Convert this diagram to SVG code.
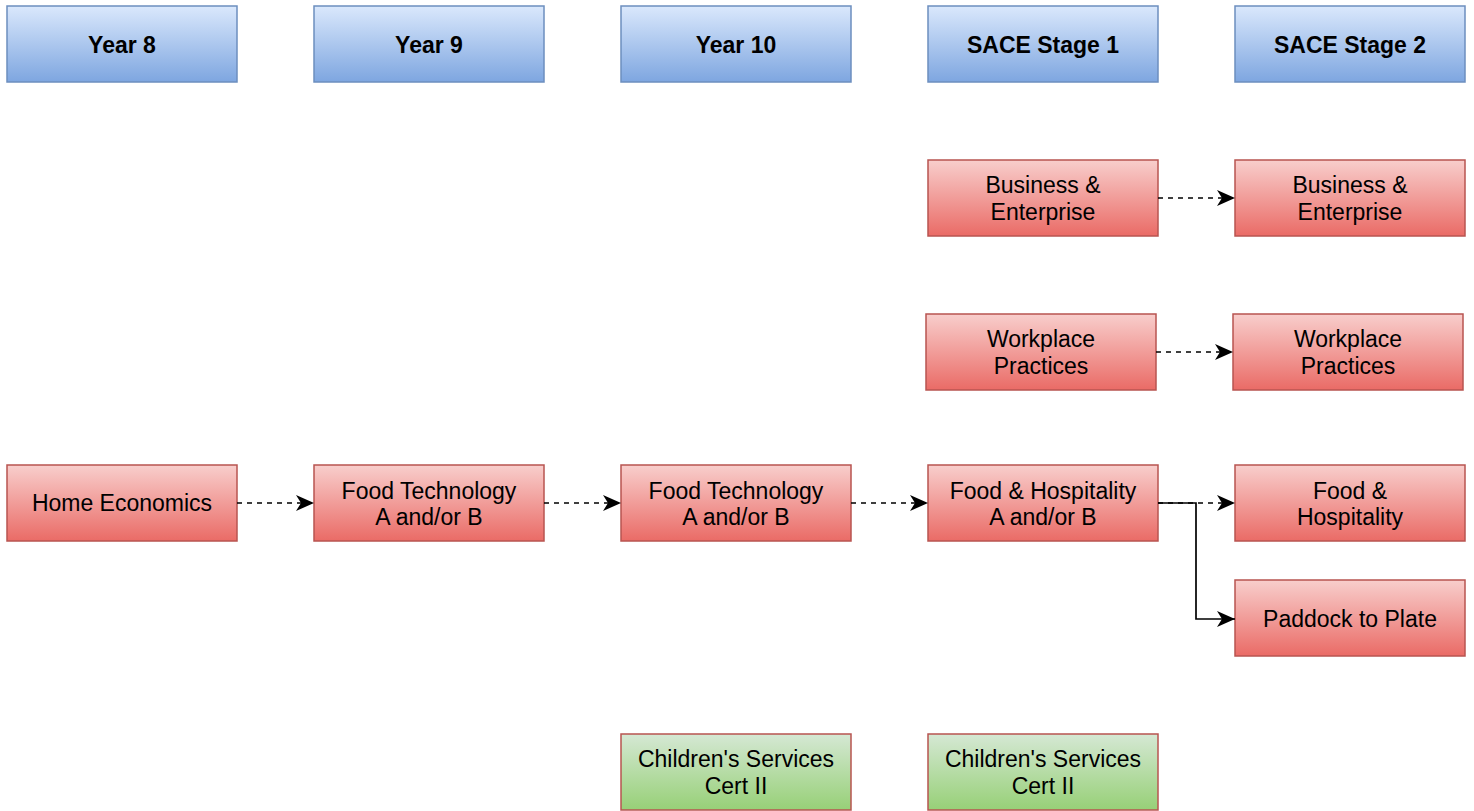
<svg xmlns="http://www.w3.org/2000/svg" width="1474" height="811" viewBox="0 0 1474 811">
<style>
text{font-family:"Liberation Sans",Arial,sans-serif;font-size:23px;fill:#000;text-anchor:middle}
.h text{font-weight:bold}
.h rect{fill:url(#gb);stroke:#6c8ebf;stroke-width:1.5}
.r rect{fill:url(#gr);stroke:#b85450;stroke-width:1.5}
.g rect{fill:url(#gg);stroke:#b85450;stroke-width:1.5}
.c path{fill:none;stroke:#000;stroke-width:1.7}
.c .d{stroke-dasharray:5 5}
</style>
<defs>
<linearGradient id="gb" x1="0" y1="0" x2="0" y2="1"><stop offset="0" stop-color="#dae8fc"/><stop offset="1" stop-color="#7ea6e0"/></linearGradient>
<linearGradient id="gr" x1="0" y1="0" x2="0" y2="1"><stop offset="0" stop-color="#f8cecc"/><stop offset="1" stop-color="#ea6b66"/></linearGradient>
<linearGradient id="gg" x1="0" y1="0" x2="0" y2="1"><stop offset="0" stop-color="#d5e8d4"/><stop offset="1" stop-color="#97d077"/></linearGradient>
<marker id="ah" viewBox="0 0 18 16" refX="18" refY="8" markerWidth="18" markerHeight="16" markerUnits="userSpaceOnUse" orient="auto"><path d="M0,0 L18,8 L0,16 L5,8 Z" fill="#000"/></marker>
</defs>
<g id="y8" class="h"><rect x="7" y="6" width="230" height="76"/><text x="122" y="53">Year 8</text></g>
<g id="y9" class="h"><rect x="314" y="6" width="230" height="76"/><text x="429" y="53">Year 9</text></g>
<g id="y10" class="h"><rect x="621" y="6" width="230" height="76"/><text x="736" y="53">Year 10</text></g>
<g id="s1" class="h"><rect x="928" y="6" width="230" height="76"/><text x="1043" y="53">SACE Stage 1</text></g>
<g id="s2" class="h"><rect x="1235" y="6" width="230" height="76"/><text x="1350" y="53">SACE Stage 2</text></g>

<g id="be1" class="r"><rect x="928" y="160" width="230" height="76"/><text x="1043" y="193">Business &amp;</text><text x="1043" y="220">Enterprise</text></g>
<g id="be2" class="r"><rect x="1235" y="160" width="230" height="76"/><text x="1350" y="193">Business &amp;</text><text x="1350" y="220">Enterprise</text></g>
<g id="wp1" class="r"><rect x="926" y="314" width="230" height="76"/><text x="1041" y="347">Workplace</text><text x="1041" y="374">Practices</text></g>
<g id="wp2" class="r"><rect x="1233" y="314" width="230" height="76"/><text x="1348" y="347">Workplace</text><text x="1348" y="374">Practices</text></g>
<g id="he" class="r"><rect x="7" y="465" width="230" height="76"/><text x="122" y="511">Home Economics</text></g>
<g id="ft9" class="r"><rect x="314" y="465" width="230" height="76"/><text x="429" y="499">Food Technology</text><text x="429" y="525">A and/or B</text></g>
<g id="ft10" class="r"><rect x="621" y="465" width="230" height="76"/><text x="736" y="499">Food Technology</text><text x="736" y="525">A and/or B</text></g>
<g id="fh1" class="r"><rect x="928" y="465" width="230" height="76"/><text x="1043" y="499">Food &amp; Hospitality</text><text x="1043" y="525">A and/or B</text></g>
<g id="fh2" class="r"><rect x="1235" y="465" width="230" height="76"/><text x="1350" y="499">Food &amp;</text><text x="1350" y="525">Hospitality</text></g>
<g id="pp" class="r"><rect x="1235" y="580" width="230" height="76"/><text x="1350" y="627">Paddock to Plate</text></g>
<g id="cs10" class="g"><rect x="621" y="734" width="230" height="76"/><text x="736" y="767">Children's Services</text><text x="736" y="794">Cert II</text></g>
<g id="cs1" class="g"><rect x="928" y="734" width="230" height="76"/><text x="1043" y="767">Children's Services</text><text x="1043" y="794">Cert II</text></g>

<g id="connectors" class="c">
<path class="d" d="M1158,198 L1235,198" marker-end="url(#ah)"/>
<path class="d" d="M1156,352 L1233,352" marker-end="url(#ah)"/>
<path class="d" d="M237,503 L314,503" marker-end="url(#ah)"/>
<path class="d" d="M544,503 L621,503" marker-end="url(#ah)"/>
<path class="d" d="M851,503 L928,503" marker-end="url(#ah)"/>
<path class="d" d="M1158,503 L1235,503" marker-end="url(#ah)"/>
<path d="M1158,503 L1196,503 L1196,619 L1235,619" marker-end="url(#ah)"/>
</g>
</svg>
